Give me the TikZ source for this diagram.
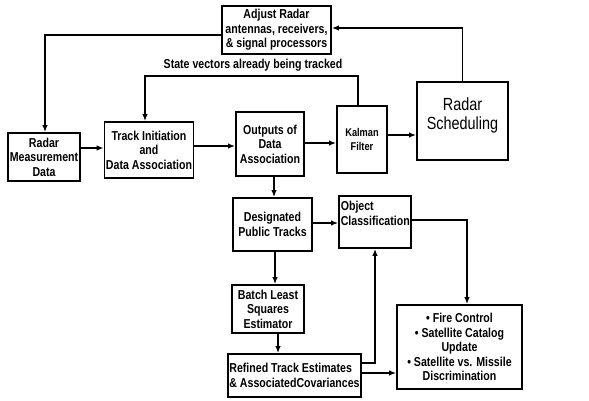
\documentclass[tikz,border=0pt]{standalone}
\usepackage{fontspec}
\setmainfont{Liberation Sans}[FakeStretch=0.82]
\usetikzlibrary{arrows.meta}

\tikzset{
  blk/.style={draw, line width=1.3pt, align=center, inner sep=1pt,
    font=\fontsize{9.2}{10.4}\selectfont\bfseries},
  arr/.style={line width=1pt, -{Latex[length=5pt,width=4pt]}},
  ln/.style={line width=1pt}
}

\begin{document}
\begin{tikzpicture}[x=0.025cm,y=-0.025cm]
        \useasboundingbox (0,0) rectangle (589,400);
        % top row
        \node[blk, minimum width=2.725cm, minimum height=1.2cm] (adjust) at (276.5,30) {Adjust Radar\\antennas, receivers,\\\& signal processors};
        \node[blk, minimum width=1.8cm, minimum height=1.2cm] (meas) at (44,157) {Radar\\Measurement\\Data};
        \node[blk, minimum width=2.15cm, minimum height=1.4cm] (init) at (149,150) {Track Initiation\\and\\Data Association};
        \node[blk, minimum width=1.7cm, minimum height=1.6cm] (outp) at (270,144) {Outputs of\\Data\\Association};
        \node[blk, minimum width=1.25cm, minimum height=1.675cm, font=\fontsize{8}{10}\selectfont\bfseries] (kalman) at (362,139.5) {Kalman\\Filter};
        \node[blk, minimum width=2.275cm, minimum height=1.95cm, label={[font=\fontsize{12.5}{13}\selectfont, align=center, anchor=north, yshift=-0.3cm]north:Radar\\Scheduling}] (sched) at (462.5,121) {};
        % lower part
        \node[blk, minimum width=1.975cm, minimum height=1.325cm] (desig) at (272.5,224.5) {Designated\\Public Tracks};
        \node[blk, minimum width=1.8cm, minimum height=1.3cm, label={[font=\fontsize{9.2}{10.4}\selectfont\bfseries, align=left, anchor=north west, inner sep=0pt, xshift=0.06cm, yshift=-0.15cm]north west:Object\\Classification}] (objcl) at (375,222) {};
        \node[blk, minimum width=1.8cm, minimum height=1.2cm] (batch) at (268,309) {Batch Least\\Squares\\Estimator};
        \node[blk, minimum width=3.325cm, minimum height=1.075cm, align=left] (refined) at (294.5,375.5) {Refined Track Estimates\\\& AssociatedCovariances};
        \node[blk, minimum width=3.125cm, minimum height=2.1cm] (fire) at (459.5,347) {\textbullet\ Fire Control\\\textbullet\ Satellite Catalog\\Update\\\textbullet\ Satellite vs. Missile\\Discrimination};

        % feedback loops
        \draw[arr] (adjust.west |- 0,35) -| (meas.north -| 45,0);
        \draw[arr] (sched.north) |- (adjust.east |- 0,28);
        \draw[arr] (kalman.north -| 358,0) |- (145,76) -- (init.north -| 145,0);
        \node[font=\fontsize{9.2}{11}\selectfont\bfseries] (svlbl) at (253,65) {State vectors already being tracked};

        % main chain
        \draw[arr] (meas.east |- 0,148) -- (init.west |- 0,148);
        \draw[arr] (init.east |- 0,146) -- (outp.west |- 0,146);
        \draw[arr] (outp.east |- 0,143) -- (kalman.west |- 0,143);
        \draw[arr] (kalman.east |- 0,135) -- (sched.west |- 0,135);
        \draw[arr] (outp.south -| 274,0) -- (desig.north -| 274,0);
        \draw[arr] (desig.east |- 0,223) -- (objcl.west |- 0,223);
        \draw[arr] (desig.south -| 275,0) -- (batch.north -| 275,0);
        \draw[arr] (batch.south -| 278,0) -- (refined.north -| 278,0);
        \draw[arr] (refined.east |- 0,363) -| (objcl.south -| 375,0);
        \draw[arr] (refined.east |- 0,373) -- (fire.west |- 0,373);
        \draw[arr] (objcl.east |- 0,220) -| (fire.north -| 467,0);
    \end{tikzpicture}
\end{document}
